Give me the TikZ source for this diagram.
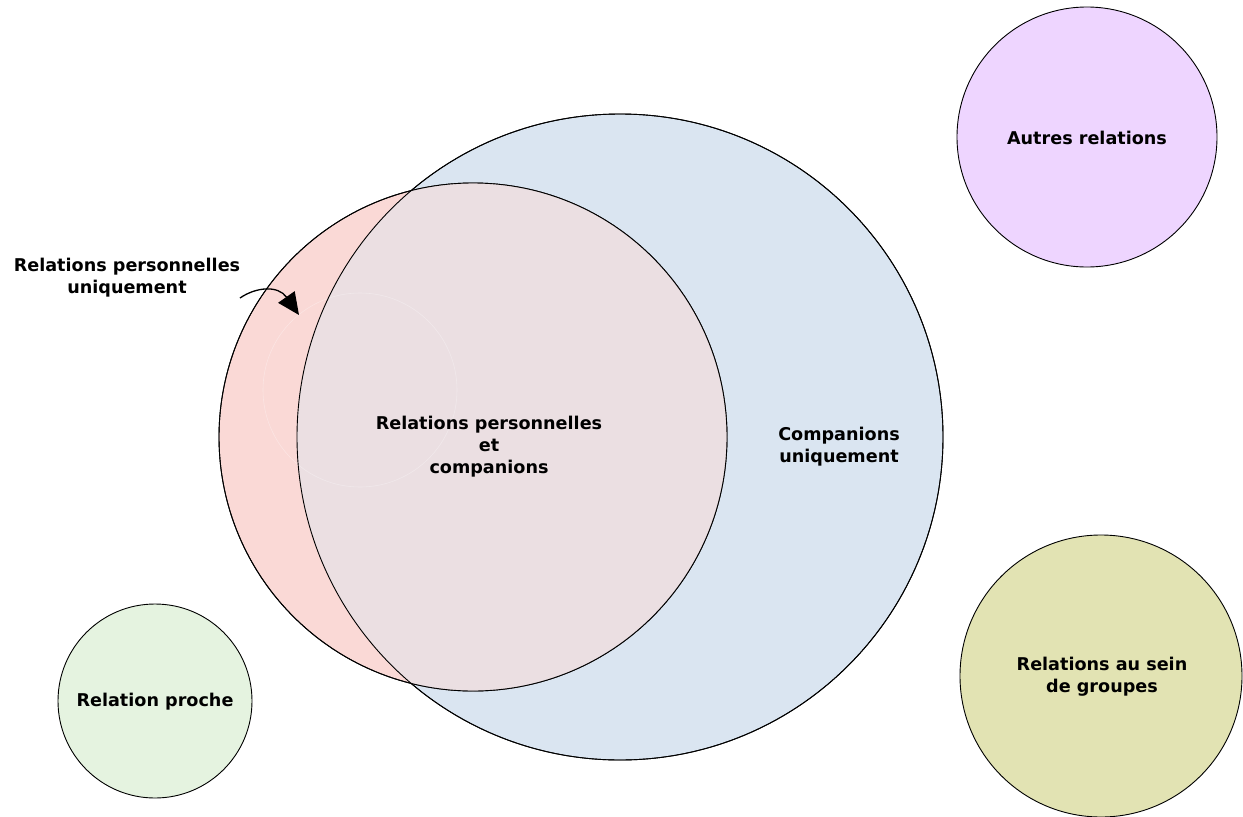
\documentclass[tikz,border=0pt]{standalone}
\usepackage{fontspec}
\setmainfont{DejaVu Sans}
\usetikzlibrary{arrows.meta}
\definecolor{cpink}{HTML}{FAD9D6}
\definecolor{cblue}{HTML}{DAE5F1}
\definecolor{cover}{HTML}{EBDFE2}
\definecolor{cpurple}{HTML}{EED5FF}
\definecolor{colive}{HTML}{E2E3B3}
\definecolor{cgreen}{HTML}{E5F3E0}
\tikzset{
  lbl/.style={font=\fontsize{17.6}{22}\selectfont\bfseries, align=center, text=black, inner sep=0pt},
  circ/.style={circle, draw=black, line width=0.9pt, inner sep=0pt},
}
\begin{document}
\begin{tikzpicture}[x=1pt,y=-1pt]
\useasboundingbox (0,0) rectangle (1243,817);
\fill[white] (0,0) rectangle (1243,817);
% big circles
\node[circ, fill=cblue, minimum size=646pt] (blue) at (620,437) {};
\node[circ, fill=cpink, minimum size=508pt] (pink) at (473,437) {};
\begin{scope}
  \clip (620,437) circle[radius=323];
  \fill[cover] (473,437) circle[radius=254];
\end{scope}
\draw[white, opacity=0.3, line width=0.6pt] (360,390) circle[radius=97];
\draw[black, line width=0.9pt] (620,437) circle[radius=323];
\draw[black, line width=0.9pt] (473,437) circle[radius=254];
% small circles
\node[circ, fill=cpurple, minimum size=260pt] (purple) at (1087,137) {};
\node[circ, fill=colive, minimum size=282pt] (olive) at (1101,676) {};
\node[circ, fill=cgreen, minimum size=194pt] (green) at (155,701) {};
% labels
\node[lbl] (tPerso) at (127,278) {Relations personnelles\\uniquement};
\node[lbl] (tBoth) at (489,447) {Relations personnelles\\et\\companions};
\node[lbl] (tComp) at (839,447) {Companions\\uniquement};
\node[lbl] at ([yshift=-1pt]purple.center) {Autres relations};
\node[lbl] at ([xshift=1pt,yshift=-1pt]olive.center) {Relations au sein\\de groupes};
\node[lbl] at ([yshift=-1pt]green.center) {Relation proche};
% arrow
\coordinate (aS) at (240,298);
\coordinate (aE) at (299,315);
\draw[line width=1.3pt, -{Triangle[length=22pt,width=20pt]}] (aS) .. controls (256,287) and (278,285) .. (aE);
\end{tikzpicture}
\end{document}
